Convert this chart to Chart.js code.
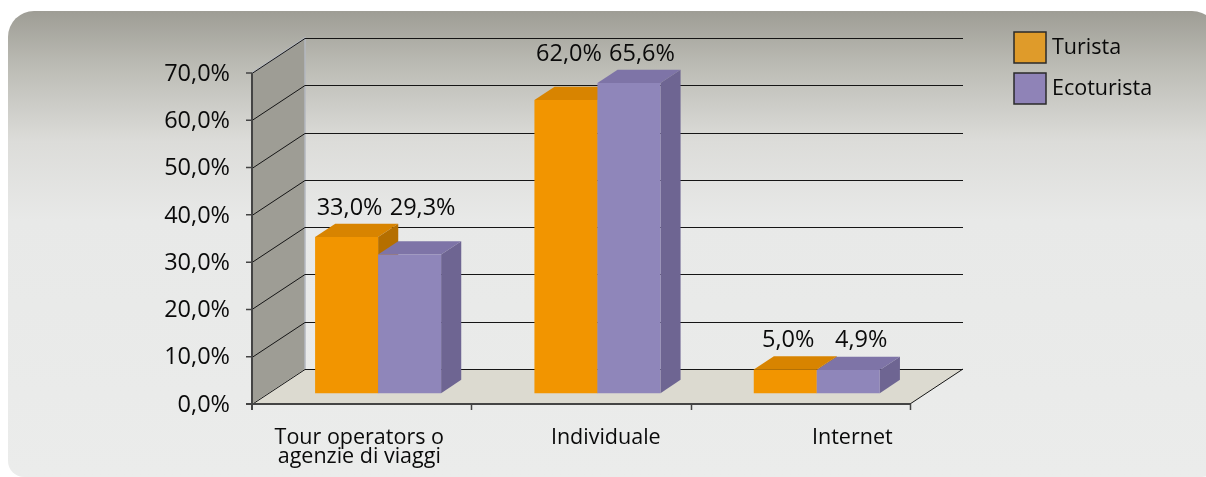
<!DOCTYPE html>
<html>
<head>
<meta charset="utf-8">
<script src="https://cdn.jsdelivr.net/npm/chart.js@4.4.1/dist/chart.umd.min.js"></script>
<style>
  html, body { margin: 0; padding: 0; background: #fff; }
  #wrap { position: relative; width: 1206px; height: 477px; overflow: hidden; }
  #panel {
    position: absolute; left: 8px; top: 11px; width: 1210px; height: 466px;
    border-radius: 26px 26px 16px 16px;
    background: linear-gradient(to bottom, #9e9d95 0%, #bcbcb5 12%, #dcdcd9 28%, #e8e9e8 45%, #ebeceb 100%);
  }
  canvas { position: absolute; left: 0; top: 0; }
</style>
</head>
<body>
<div id="wrap">
  <div id="panel"></div>
  <canvas id="chart" width="1206" height="477"></canvas>
</div>
<script>
const categories = [["Tour operators o", "agenzie di viaggi"], "Individuale", "Internet"];
const seriesNames = ["Turista", "Ecoturista"];
const turista = [33.0, 62.0, 5.0];
const ecoturista = [29.3, 65.6, 4.9];
const yMax = 70;
const yStep = 10;

// colours: front, top, side, legend swatch
const palette = [
  { front: "#f29500", top: "#d88400", side: "#b56f00", key: "#df9b2a" },
  { front: "#8f86ba", top: "#7e74a7", side: "#6e6592", key: "#8f83b7" }
];

const DEPTH = { dx: 53, dy: -35 };   // back wall offset from front plane
const BAR_NEAR = 0.31, BAR_FAR = 0.69;
const FONT = "'Open Sans', 'Noto Sans', sans-serif";
const INK = "#0a0a0a";

function pct(v){
  return v.toFixed(1).replace(".", ",") + "%";
}

function poly(ctx, pts, fill){
  ctx.beginPath();
  ctx.moveTo(pts[0][0], pts[0][1]);
  for (let i = 1; i < pts.length; i++) ctx.lineTo(pts[i][0], pts[i][1]);
  ctx.closePath();
  ctx.fillStyle = fill;
  ctx.fill();
}

const box3d = {
  id: "box3d",
  beforeDatasetsDraw(chart){
    const ctx = chart.ctx;
    const x = chart.scales.x, y = chart.scales.y;
    const L = x.left, R = x.right, B = y.bottom, T = y.top;
    const dx = DEPTH.dx, dy = DEPTH.dy;

    ctx.save();

    /* side wall + floor */
    poly(ctx, [[L, B], [L, T], [L + dx, T + dy], [L + dx, B + dy]], "#9e9d95");
    poly(ctx, [[L, B], [L + dx, B + dy], [R + dx, B + dy], [R, B]], "#dcdad0");

    // light edge on the wall
    ctx.strokeStyle = "#b4b8c0";
    ctx.lineWidth = 1.5;
    ctx.beginPath();
    ctx.moveTo(L, T);
    ctx.lineTo(L + dx, T + dy);
    ctx.lineTo(L + dx, B + dy);
    ctx.stroke();

    /* gridlines: back wall and side wall */
    ctx.strokeStyle = "#151515";
    ctx.lineWidth = 1;
    for (const t of y.ticks){
      const py = Math.round(y.getPixelForValue(t.value)) + 0.5;
      ctx.beginPath();
      ctx.moveTo(L, py);
      ctx.lineTo(L + dx, py + dy);
      ctx.lineTo(R + dx, py + dy);
      ctx.stroke();
    }
    ctx.beginPath();
    ctx.moveTo(R, B);
    ctx.lineTo(R + dx, B + dy);
    ctx.stroke();

    /* axes */
    ctx.strokeStyle = "#444";
    ctx.lineWidth = 2;
    ctx.beginPath();
    ctx.moveTo(L, T);
    ctx.lineTo(L, B + 6);
    ctx.moveTo(L - 6, B);
    ctx.lineTo(R, B);
    ctx.stroke();

    ctx.lineWidth = 1.5;
    ctx.beginPath();
    for (const t of y.ticks){
      const py = y.getPixelForValue(t.value);
      ctx.moveTo(L - 6, py);
      ctx.lineTo(L, py);
    }
    const n = chart.data.labels.length;
    for (let i = 1; i <= n; i++){
      const gx = Math.round(L + (R - L) * i / n) + 0.5;
      ctx.moveTo(gx, B);
      ctx.lineTo(gx, B + 6);
    }
    ctx.stroke();

    /* y tick labels */
    ctx.fillStyle = INK;
    ctx.font = "23.5px " + FONT;
    ctx.textAlign = "right";
    ctx.textBaseline = "middle";
    for (const t of y.ticks){
      ctx.fillText(pct(t.value), L - 22, y.getPixelForValue(t.value) + 1);
    }

    /* category labels */
    ctx.font = "21.5px " + FONT;
    ctx.textAlign = "center";
    chart.data.labels.forEach((lab, i) => {
      const cx = x.getPixelForValue(i);
      const lx = L + (cx - L) * 1.124 - 16;
      const lines = Array.isArray(lab) ? lab : [lab];
      lines.forEach((s, k) => ctx.fillText(s, lx, B + 34 + k * 19));
    });

    /* bars as boxes */
    const fdx = BAR_NEAR * dx, fdy = BAR_NEAR * dy;
    const bdx = (BAR_FAR - BAR_NEAR) * dx, bdy = (BAR_FAR - BAR_NEAR) * dy;
    const fronts = [];
    for (let i = 0; i < n; i++){
      chart.data.datasets.forEach((ds, d) => {
        const bar = chart.getDatasetMeta(d).data[i];
        const c = palette[d];
        const x0 = bar.x - bar.width / 2 + fdx, x1 = bar.x + bar.width / 2 + fdx;
        const yt = bar.y + fdy, yb = bar.base + fdy;
        poly(ctx, [[x0, yt], [x1, yt], [x1 + bdx, yt + bdy], [x0 + bdx, yt + bdy]], c.top);
        poly(ctx, [[x1, yt], [x1 + bdx, yt + bdy], [x1 + bdx, yb + bdy], [x1, yb]], c.side);
        poly(ctx, [[x0, yt], [x1, yt], [x1, yb], [x0, yb]], c.front);
        fronts.push({ i, d, cx: (x0 + x1) / 2, yt });
      });
    }

    /* value labels, one row per category above the taller bar */
    ctx.font = "23.5px " + FONT;
    ctx.fillStyle = INK;
    ctx.textAlign = "center";
    for (let i = 0; i < n; i++){
      const pair = fronts.filter(f => f.i === i);
      const top = Math.min(...pair.map(f => f.yt));
      pair.forEach(f => {
        const v = chart.data.datasets[f.d].data[i];
        const shift = f.d === 0 ? 3 : 13;
        ctx.fillText(pct(v), f.cx + shift, top - 29);
      });
    }

    /* legend */
    ctx.font = "21.5px " + FONT;
    ctx.textAlign = "left";
    ctx.textBaseline = "middle";
    chart.data.datasets.forEach((ds, d) => {
      const ky = 32 + d * 41;
      ctx.fillStyle = palette[d].key;
      ctx.fillRect(1014, ky, 32, 31);
      ctx.strokeStyle = "#2a2a2a";
      ctx.lineWidth = 1.5;
      ctx.strokeRect(1014, ky, 32, 31);
      ctx.fillStyle = INK;
      ctx.fillText(ds.label, 1052, ky + 16);
    });

    ctx.restore();
    return false;
  }
};

new Chart(document.getElementById("chart"), {
  type: "bar",
  data: {
    labels: categories,
    datasets: [
      { label: seriesNames[0], data: turista, backgroundColor: palette[0].front },
      { label: seriesNames[1], data: ecoturista, backgroundColor: palette[1].front }
    ]
  },
  options: {
    responsive: false,
    animation: false,
    layout: { padding: { left: 252, right: 296, top: 73, bottom: 73 } },
    categoryPercentage: 0.5745,
    barPercentage: 1,
    plugins: { legend: { display: false }, tooltip: { enabled: false } },
    scales: {
      x: { display: false },
      y: { display: false, min: 0, max: yMax, ticks: { stepSize: yStep } }
    }
  },
  plugins: [box3d]
});
</script>
</body>
</html>
